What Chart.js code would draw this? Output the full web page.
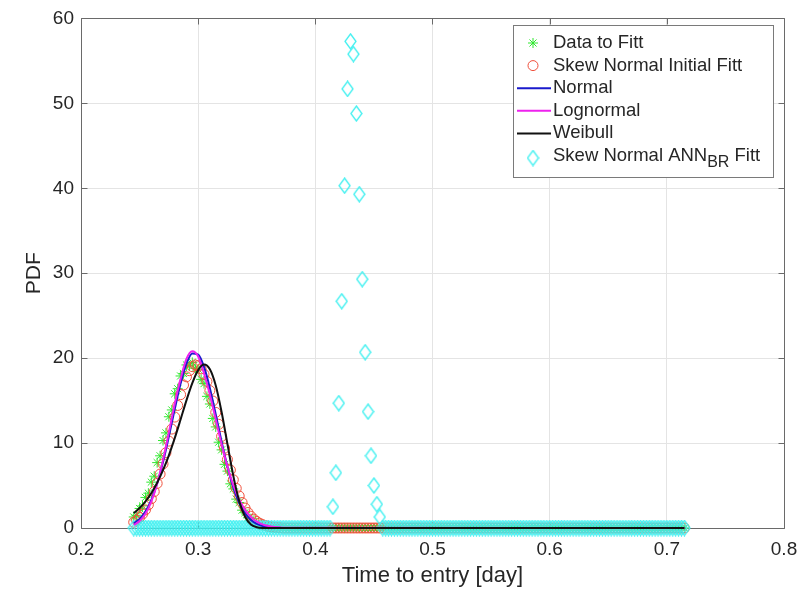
<!DOCTYPE html>
<html>
<head>
<meta charset="utf-8">
<script src="https://cdn.jsdelivr.net/npm/chart.js@4/dist/chart.umd.min.js"></script>
<style>
  html, body { margin: 0; padding: 0; background: #fff; }
  canvas { display: block; background: #fff; }
</style>
</head>
<body>
<canvas id="pdfChart" width="808" height="590"></canvas>
<script>
/* =========================
   DATA
========================= */

const tickX = [0.2, 0.3, 0.4, 0.5, 0.6, 0.7, 0.8];
const tickY = [0, 10, 20, 30, 40, 50, 60];

// sample times [day] for the marker series
const tDays = [
  0.245, 0.2475, 0.25, 0.2525, 0.255, 0.2575, 0.26, 0.2625,
  0.265, 0.2675, 0.27, 0.2725, 0.275, 0.2775, 0.28, 0.2825,
  0.285, 0.2875, 0.29, 0.2925, 0.295, 0.2975, 0.3, 0.3025,
  0.305, 0.3075, 0.31, 0.3125, 0.315, 0.3175, 0.32, 0.3225,
  0.325, 0.3275, 0.33, 0.3325, 0.335, 0.3375, 0.34, 0.3425,
  0.345, 0.3475, 0.35, 0.3525, 0.355, 0.3575, 0.36, 0.3625,
  0.365, 0.3675, 0.37, 0.3725, 0.375, 0.3775, 0.38, 0.3825,
  0.385, 0.3875, 0.39, 0.3925, 0.395, 0.3975, 0.4, 0.4025,
  0.405, 0.4075, 0.41, 0.4125, 0.415, 0.4175, 0.42, 0.4225,
  0.425, 0.4275, 0.43, 0.4325, 0.435, 0.4375, 0.44, 0.4425,
  0.445, 0.4475, 0.45, 0.4525, 0.455, 0.4575, 0.46, 0.4625,
  0.465, 0.4675, 0.47, 0.4725, 0.475, 0.4775, 0.48, 0.4825,
  0.485, 0.4875, 0.49, 0.4925, 0.495, 0.4975, 0.5, 0.5025,
  0.505, 0.5075, 0.51, 0.5125, 0.515, 0.5175, 0.52, 0.5225,
  0.525, 0.5275, 0.53, 0.5325, 0.535, 0.5375, 0.54, 0.5425,
  0.545, 0.5475, 0.55, 0.5525, 0.555, 0.5575, 0.56, 0.5625,
  0.565, 0.5675, 0.57, 0.5725, 0.575, 0.5775, 0.58, 0.5825,
  0.585, 0.5875, 0.59, 0.5925, 0.595, 0.5975, 0.6, 0.6025,
  0.605, 0.6075, 0.61, 0.6125, 0.615, 0.6175, 0.62, 0.6225,
  0.625, 0.6275, 0.63, 0.6325, 0.635, 0.6375, 0.64, 0.6425,
  0.645, 0.6475, 0.65, 0.6525, 0.655, 0.6575, 0.66, 0.6625,
  0.665, 0.6675, 0.67, 0.6725, 0.675, 0.6775, 0.68, 0.6825,
  0.685, 0.6875, 0.69, 0.6925, 0.695, 0.6975, 0.7, 0.7025,
  0.705, 0.7075, 0.71, 0.7125, 0.715
];

// measured pdf (data to fit)
const dataPdf = [
  1.3, 1.5, 2.3, 2.6, 3.6, 4.1, 5.4, 6.1,
  7.7, 8.5, 10.3, 11.2, 13.1, 13.9, 15.8, 16.4,
  17.9, 18.2, 19.2, 19.1, 19.5, 18.8, 18.7, 17.5,
  17.0, 15.5, 14.6, 12.9, 11.9, 10.1, 9.2, 7.5,
  6.7, 5.2, 4.6, 3.4, 3.0, 2.1, 1.8, 1.2,
  1.1, 0.7, 0.6, 0.35, 0.3, 0.15, 0.12, 0.05,
  0, 0, 0, 0, 0, 0, 0, 0,
  0, 0, 0, 0, 0, 0, 0, 0,
  0, 0, 0, 0, 0, 0, 0, 0,
  0, 0, 0, 0, 0, 0, 0, 0,
  0, 0, 0, 0, 0, 0, 0, 0,
  0, 0, 0, 0, 0, 0, 0, 0,
  0, 0, 0, 0, 0, 0, 0, 0,
  0, 0, 0, 0, 0, 0, 0, 0,
  0, 0, 0, 0, 0, 0, 0, 0,
  0, 0, 0, 0, 0, 0, 0, 0,
  0, 0, 0, 0, 0, 0, 0, 0,
  0, 0, 0, 0, 0, 0, 0, 0,
  0, 0, 0, 0, 0, 0, 0, 0,
  0, 0, 0, 0, 0, 0, 0, 0,
  0, 0, 0, 0, 0, 0, 0, 0,
  0, 0, 0, 0, 0, 0, 0, 0,
  0, 0, 0, 0, 0, 0, 0, 0,
  0, 0, 0, 0, 0
];

// skew normal, initial fit
const skewInitPdf = [
  0.68, 0.92, 1.24, 1.64, 2.13, 2.73, 3.44, 4.28,
  5.25, 6.35, 7.55, 8.86, 10.23, 11.65, 13.06, 14.43,
  15.7, 16.84, 17.8, 18.52, 19.0, 19.2, 19.1, 18.74,
  18.1, 17.25, 16.18, 14.95, 13.61, 12.21, 10.79, 9.4,
  8.06, 6.82, 5.68, 4.66, 3.77, 3.0, 2.35, 1.82,
  1.39, 1.04, 0.77, 0.56, 0.4, 0.28, 0.19, 0.13,
  0.09, 0.06, 0.04, 0, 0, 0, 0, 0,
  0, 0, 0, 0, 0, 0, 0, 0,
  0, 0, 0, 0, 0, 0, 0, 0,
  0, 0, 0, 0, 0, 0, 0, 0,
  0, 0, 0, 0, 0, 0, 0, 0,
  0, 0, 0, 0, 0, 0, 0, 0,
  0, 0, 0, 0, 0, 0, 0, 0,
  0, 0, 0, 0, 0, 0, 0, 0,
  0, 0, 0, 0, 0, 0, 0, 0,
  0, 0, 0, 0, 0, 0, 0, 0,
  0, 0, 0, 0, 0, 0, 0, 0,
  0, 0, 0, 0, 0, 0, 0, 0,
  0, 0, 0, 0, 0, 0, 0, 0,
  0, 0, 0, 0, 0, 0, 0, 0,
  0, 0, 0, 0, 0, 0, 0, 0,
  0, 0, 0, 0, 0, 0, 0, 0,
  0, 0, 0, 0, 0, 0, 0, 0,
  0, 0, 0, 0, 0
];

// skew normal, ANN (BR) fit
const annPdf = [
  0, 0, 0, 0, 0, 0, 0, 0,
  0, 0, 0, 0, 0, 0, 0, 0,
  0, 0, 0, 0, 0, 0, 0, 0,
  0, 0, 0, 0, 0, 0, 0, 0,
  0, 0, 0, 0, 0, 0, 0, 0,
  0, 0, 0, 0, 0, 0, 0, 0,
  0, 0, 0, 0, 0, 0, 0, 0,
  0, 0, 0, 0, 0, 0, 0, 0,
  0, 0, 0, 0, 2.5, 6.5, 14.7, 26.7,
  40.3, 51.7, 57.3, 55.8, 48.8, 39.3, 29.3, 20.7,
  13.7, 8.5, 5.0, 2.8, 1.3, 0, 0, 0,
  0, 0, 0, 0, 0, 0, 0, 0,
  0, 0, 0, 0, 0, 0, 0, 0,
  0, 0, 0, 0, 0, 0, 0, 0,
  0, 0, 0, 0, 0, 0, 0, 0,
  0, 0, 0, 0, 0, 0, 0, 0,
  0, 0, 0, 0, 0, 0, 0, 0,
  0, 0, 0, 0, 0, 0, 0, 0,
  0, 0, 0, 0, 0, 0, 0, 0,
  0, 0, 0, 0, 0, 0, 0, 0,
  0, 0, 0, 0, 0, 0, 0, 0,
  0, 0, 0, 0, 0, 0, 0, 0,
  0, 0, 0, 0, 0, 0, 0, 0,
  0, 0, 0, 0, 0
];

// fitted curves
const lineT = [
  0.245, 0.25, 0.255, 0.26, 0.265, 0.27, 0.275, 0.28, 0.285, 0.29,
  0.295, 0.3, 0.305, 0.31, 0.315, 0.32, 0.325, 0.33, 0.335, 0.34,
  0.345, 0.35, 0.355, 0.36, 0.365, 0.37, 0.375, 0.38, 0.715
];
const normalPdf = [
  0.55, 1.07, 1.94, 3.29, 5.23, 7.77, 10.8, 14.0, 17.0, 19.35,
  20.56, 20.42, 18.97, 16.47, 13.38, 10.16, 7.22, 4.79, 2.97, 1.73,
  0.94, 0.48, 0.23, 0.10, 0.04, 0.015, 0, 0, 0
];
const lognormalPdf = [
  0.36, 0.82, 1.68, 3.11, 5.22, 8.02, 11.27, 14.62, 17.56, 19.9,
  20.8, 20.2, 18.19, 15.7, 12.78, 9.85, 7.22, 5.04, 3.35, 2.13,
  1.30, 0.76, 0.43, 0.23, 0.12, 0.06, 0.03, 0.015, 0
];
const weibullPdf = [
  1.76, 2.35, 3.12, 4.10, 5.32, 6.81, 8.56, 10.58, 12.78, 15.03,
  17.07, 18.59, 19.24, 18.68, 16.77, 13.65, 9.87, 6.14, 3.18, 1.32,
  0.41, 0.09, 0.01, 0, 0, 0, 0, 0, 0
];


/* =========================
   STYLE
========================= */

const FONT = "'Liberation Sans', Arial, Helvetica, sans-serif";
const TEXT_COLOR = "#262626";
const AXIS_COLOR = "#6a6a6a";
const GRID_COLOR = "#e4e4e4";

const C_DATA = "#2ee82e";
const C_INIT = "#f0503c";
const C_NORMAL = "#1a1acc";
const C_LOGN = "#ee22ee";
const C_WEIB = "#111111";
const C_ANN = "#40f0f0";

// tall diamond marker (like matlab's 'd')
function diamondSprite(color) {
  const c = document.createElement("canvas");
  c.width = 13;
  c.height = 17;
  const g = c.getContext("2d");
  g.strokeStyle = color;
  g.lineWidth = 1.3;
  g.beginPath();
  g.moveTo(6.5, 1);
  g.lineTo(12, 8.5);
  g.lineTo(6.5, 16);
  g.lineTo(1, 8.5);
  g.closePath();
  g.stroke();
  return c;
}
const annMarker = diamondSprite(C_ANN);

const toPoints = (xs, ys) => xs.map((x, i) => ({ x: x, y: ys[i] }));


/* =========================
   PLUGINS
========================= */

// full axes box + inward ticks
const axesBox = {
  id: "axesBox",
  beforeDatasetsDraw(chart) {
    const { ctx, chartArea: a, scales } = chart;
    const L = Math.round(a.left) + 0.5, R = Math.round(a.right) + 0.5;
    const T = Math.round(a.top) + 0.5, B = Math.round(a.bottom) + 0.5;
    ctx.save();
    ctx.strokeStyle = AXIS_COLOR;
    ctx.lineWidth = 1;
    ctx.beginPath();
    ctx.rect(L, T, R - L, B - T);
    tickX.forEach(v => {
      const px = Math.round(scales.x.getPixelForValue(v)) + 0.5;
      ctx.moveTo(px, B); ctx.lineTo(px, B - 6);
      ctx.moveTo(px, T); ctx.lineTo(px, T + 6);
    });
    tickY.forEach(v => {
      const py = Math.round(scales.y.getPixelForValue(v)) + 0.5;
      ctx.moveTo(L, py); ctx.lineTo(L + 6, py);
      ctx.moveTo(R, py); ctx.lineTo(R - 6, py);
    });
    ctx.stroke();
    ctx.restore();
  }
};

// legend box in the upper right corner
const legendEntries = [
  { kind: "star", color: C_DATA, text: "Data to Fitt" },
  { kind: "circle", color: C_INIT, text: "Skew Normal Initial Fitt" },
  { kind: "line", color: C_NORMAL, text: "Normal" },
  { kind: "line", color: C_LOGN, text: "Lognormal" },
  { kind: "line", color: C_WEIB, text: "Weibull" },
  { kind: "diamond", color: C_ANN, text: "Skew Normal ANN", sub: "BR", tail: " Fitt" }
];

const boxLegend = {
  id: "boxLegend",
  afterDraw(chart) {
    const ctx = chart.ctx;
    const x0 = 513, y0 = 25, w = 260, h = 152;
    ctx.save();
    ctx.fillStyle = "#fff";
    ctx.fillRect(x0, y0, w, h);
    ctx.strokeStyle = "#7a7a7a";
    ctx.lineWidth = 1;
    ctx.strokeRect(x0 + 0.5, y0 + 0.5, w, h);

    ctx.textBaseline = "middle";

    legendEntries.forEach((e, i) => {
      const cy = y0 + 18 + i * 22.6;
      const mx = x0 + 20;
      ctx.strokeStyle = e.color;
      if (e.kind === "line") {
        ctx.lineWidth = 2;
        ctx.beginPath();
        ctx.moveTo(x0 + 4, cy);
        ctx.lineTo(x0 + 38, cy);
        ctx.stroke();
      } else if (e.kind === "star") {
        ctx.lineWidth = 1;
        ctx.beginPath();
        const r = 5, d = r * Math.SQRT1_2;
        ctx.moveTo(mx - r, cy); ctx.lineTo(mx + r, cy);
        ctx.moveTo(mx, cy - r); ctx.lineTo(mx, cy + r);
        ctx.moveTo(mx - d, cy - d); ctx.lineTo(mx + d, cy + d);
        ctx.moveTo(mx - d, cy + d); ctx.lineTo(mx + d, cy - d);
        ctx.stroke();
      } else if (e.kind === "circle") {
        ctx.lineWidth = 1;
        ctx.beginPath();
        ctx.arc(mx, cy, 5, 0, Math.PI * 2);
        ctx.stroke();
      } else if (e.kind === "diamond") {
        ctx.drawImage(annMarker, mx - annMarker.width / 2, cy - annMarker.height / 2 + 2);
      }

      ctx.fillStyle = TEXT_COLOR;
      ctx.font = "18.5px " + FONT;
      const tx = x0 + 40;
      ctx.fillText(e.text, tx, cy);
      if (e.sub) {
        let sx = tx + ctx.measureText(e.text).width;
        ctx.font = "16px " + FONT;
        ctx.fillText(e.sub, sx, cy + 7);
        sx += ctx.measureText(e.sub).width;
        ctx.font = "18.5px " + FONT;
        ctx.fillText(e.tail, sx, cy);
      }
    });
    ctx.restore();
  }
};


/* =========================
   CHART
========================= */

// order: lower = drawn later (on top)
new Chart(document.getElementById("pdfChart"), {
  type: "scatter",
  data: {
    datasets: [
      {
        label: "Data to Fitt",
        data: toPoints(tDays, dataPdf),
        pointStyle: "star",
        pointRadius: 5,
        borderColor: C_DATA,
        backgroundColor: "transparent",
        pointBorderWidth: 1,
        clip: false,
        order: 5
      },
      {
        label: "Skew Normal Initial Fitt",
        data: toPoints(tDays, skewInitPdf),
        pointStyle: "circle",
        pointRadius: 5,
        borderColor: C_INIT,
        backgroundColor: "transparent",
        pointBorderWidth: 1,
        clip: false,
        order: 4
      },
      {
        label: "Normal",
        data: toPoints(lineT, normalPdf),
        showLine: true,
        pointRadius: 0,
        borderColor: C_NORMAL,
        borderWidth: 2,
        cubicInterpolationMode: "monotone",
        clip: false,
        order: 2
      },
      {
        label: "Lognormal",
        data: toPoints(lineT, lognormalPdf),
        showLine: true,
        pointRadius: 0,
        borderColor: C_LOGN,
        borderWidth: 2,
        cubicInterpolationMode: "monotone",
        clip: false,
        order: 1
      },
      {
        label: "Weibull",
        data: toPoints(lineT, weibullPdf),
        showLine: true,
        pointRadius: 0,
        borderColor: C_WEIB,
        borderWidth: 2,
        cubicInterpolationMode: "monotone",
        clip: false,
        order: 0
      },
      {
        label: "Skew Normal ANN Fitt",
        data: toPoints(tDays, annPdf),
        pointStyle: annMarker,
        pointRadius: 6,
        borderColor: C_ANN,
        backgroundColor: "transparent",
        clip: false,
        order: 3
      }
    ]
  },
  options: {
    responsive: false,
    animation: false,
    devicePixelRatio: 1,
    layout: { padding: { left: 0, top: 14, right: 24, bottom: 0 } },
    plugins: {
      legend: { display: false },
      tooltip: { enabled: false }
    },
    scales: {
      x: {
        type: "linear",
        min: 0.2,
        max: 0.8,
        afterBuildTicks: s => { s.ticks = tickX.map(v => ({ value: v })); },
        afterFit: s => { s.height = 62; },
        grid: { color: GRID_COLOR, drawTicks: false },
        border: { display: false },
        ticks: {
          color: TEXT_COLOR,
          font: { family: FONT, size: 19 },
          padding: 10,
          maxRotation: 0,
          callback: v => String(v)
        },
        title: {
          display: true,
          text: "Time to entry [day]",
          color: TEXT_COLOR,
          font: { family: FONT, size: 22 },
          padding: { top: 0, bottom: 1 }
        }
      },
      y: {
        type: "linear",
        min: 0,
        max: 60,
        afterBuildTicks: s => { s.ticks = tickY.map(v => ({ value: v })); },
        afterFit: s => { s.width = 81; },
        grid: { color: GRID_COLOR, drawTicks: false },
        border: { display: false },
        ticks: {
          color: TEXT_COLOR,
          font: { family: FONT, size: 19 },
          padding: 7,
          callback: v => String(v)
        },
        title: {
          display: true,
          text: "PDF",
          color: TEXT_COLOR,
          font: { family: FONT, size: 21 },
          padding: { top: 22, bottom: 0 }
        }
      }
    }
  },
  plugins: [axesBox, boxLegend]
});
</script>
</body>
</html>
